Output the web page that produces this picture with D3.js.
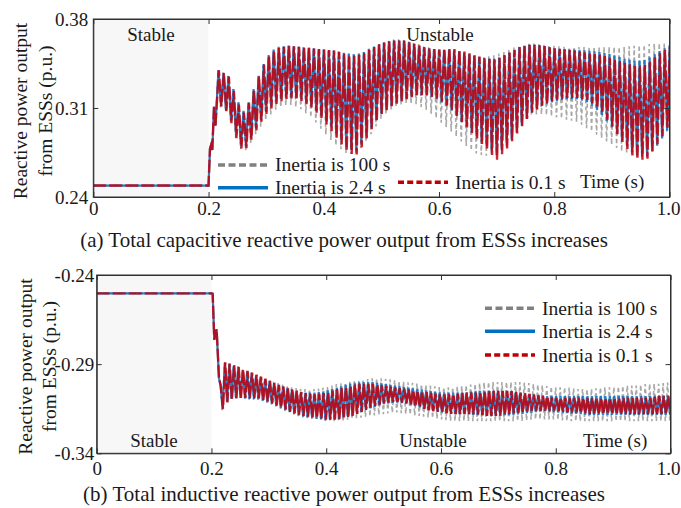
<!DOCTYPE html>
<html>
<head>
<meta charset="utf-8">
<script src="https://cdn.jsdelivr.net/npm/d3@7"></script>
<style>
  html, body { margin: 0; padding: 0; background: #fff; }
  svg { display: block; }
</style>
</head>
<body>
<svg id="chart" width="681" height="508"></svg>
<script>
// ---------------- data ----------------
const xTicks = [0, 0.2, 0.4, 0.6, 0.8, 1.0];
const xTickLabels = ["0", "0.2", "0.4", "0.6", "0.8", "1.0"];
const yTicksA = [0.24, 0.31, 0.38];
const yTicksB = [-0.34, -0.29, -0.24];
const seriesNames = ["Inertia is 100 s", "Inertia is 2.4 s", "Inertia is 0.1 s"];
const stableEnd = 0.2;

// step response after the disturbance at 0.2 s: [time, value]
const stepA = [[0, 0.249], [0.2, 0.249], [0.2025, 0.278], [0.2045, 0.281], [0.2065, 0.277],
               [0.2085, 0.300], [0.2095, 0.311], [0.212, 0.296]];
const stepB = [[0, -0.2503], [0.2, -0.2503], [0.2021, -0.2505], [0.2049, -0.2763], [0.2065, -0.2725],
               [0.209, -0.2705], [0.2115, -0.287], [0.2131, -0.298], [0.216, -0.302]];

// envelope of the oscillation that follows: [time, upper peak, lower peak]
// (a) capacitive output
const envA_100 = [[0.2166,0.340,0.311],[0.225,0.338,0.310],[0.235,0.335,0.304],[0.245,0.322,0.289],[0.255,0.310,0.278],[0.262,0.306,0.275],[0.27,0.314,0.280],[0.28,0.326,0.288],[0.29,0.338,0.295],[0.30,0.348,0.301],[0.31,0.354,0.306],[0.32,0.357,0.310],[0.34,0.359,0.313],[0.36,0.358,0.309],[0.38,0.357,0.302],[0.40,0.356,0.291],[0.42,0.355,0.281],[0.44,0.352,0.274],[0.455,0.352,0.274],[0.47,0.354,0.281],[0.48,0.357,0.288],[0.50,0.361,0.302],[0.52,0.364,0.310],[0.54,0.364,0.314],[0.56,0.361,0.313],[0.58,0.358,0.308],[0.60,0.356,0.300],[0.62,0.355,0.292],[0.64,0.353,0.283],[0.66,0.351,0.275],[0.68,0.350,0.272],[0.70,0.352,0.276],[0.72,0.356,0.286],[0.74,0.359,0.297],[0.76,0.361,0.305],[0.78,0.360,0.305],[0.80,0.359,0.303],[0.82,0.358,0.301],[0.84,0.358,0.299],[0.86,0.358,0.293],[0.88,0.358,0.287],[0.90,0.358,0.281],[0.92,0.358,0.275],[0.94,0.359,0.272],[0.96,0.360,0.276],[0.98,0.361,0.284],[1.00,0.361,0.294]];
const envA_2_4 = [[0.2166,0.340,0.312],[0.225,0.338,0.311],[0.235,0.335,0.306],[0.245,0.323,0.292],[0.255,0.311,0.281],[0.262,0.307,0.278],[0.27,0.315,0.283],[0.28,0.327,0.292],[0.29,0.339,0.300],[0.30,0.349,0.307],[0.31,0.355,0.312],[0.32,0.358,0.316],[0.34,0.359,0.319],[0.36,0.358,0.317],[0.38,0.357,0.311],[0.40,0.356,0.302],[0.42,0.355,0.291],[0.44,0.353,0.279],[0.455,0.352,0.275],[0.47,0.354,0.284],[0.48,0.357,0.293],[0.50,0.361,0.306],[0.52,0.363,0.313],[0.54,0.363,0.317],[0.56,0.360,0.320],[0.58,0.357,0.320],[0.60,0.356,0.316],[0.62,0.356,0.309],[0.64,0.354,0.299],[0.66,0.351,0.290],[0.68,0.349,0.281],[0.70,0.349,0.273],[0.72,0.353,0.281],[0.74,0.358,0.294],[0.76,0.360,0.306],[0.78,0.359,0.312],[0.80,0.357,0.315],[0.82,0.356,0.317],[0.84,0.356,0.317],[0.86,0.355,0.314],[0.88,0.354,0.306],[0.90,0.352,0.295],[0.92,0.349,0.283],[0.94,0.347,0.273],[0.96,0.348,0.271],[0.98,0.354,0.281],[1.00,0.359,0.295]];
const envA_0_1 = [[0.2166,0.340,0.312],[0.225,0.338,0.311],[0.235,0.335,0.305],[0.245,0.322,0.290],[0.255,0.310,0.279],[0.262,0.306,0.276],[0.27,0.314,0.281],[0.28,0.326,0.290],[0.29,0.338,0.298],[0.30,0.348,0.305],[0.31,0.354,0.310],[0.32,0.357,0.314],[0.34,0.359,0.318],[0.36,0.358,0.316],[0.38,0.357,0.310],[0.40,0.356,0.300],[0.42,0.355,0.288],[0.44,0.352,0.276],[0.455,0.351,0.272],[0.47,0.353,0.282],[0.48,0.356,0.291],[0.50,0.361,0.305],[0.52,0.363,0.312],[0.54,0.363,0.316],[0.56,0.360,0.320],[0.58,0.357,0.320],[0.60,0.356,0.317],[0.62,0.357,0.310],[0.64,0.355,0.299],[0.66,0.352,0.289],[0.68,0.349,0.279],[0.70,0.348,0.269],[0.72,0.353,0.279],[0.74,0.358,0.293],[0.76,0.360,0.306],[0.78,0.359,0.312],[0.80,0.357,0.316],[0.82,0.356,0.318],[0.84,0.355,0.318],[0.86,0.353,0.316],[0.88,0.352,0.308],[0.90,0.349,0.296],[0.92,0.346,0.282],[0.94,0.343,0.270],[0.96,0.344,0.269],[0.98,0.352,0.282],[1.00,0.358,0.297]];

// (b) inductive output
const envB_100 = [[0.2188,-0.289,-0.3158],[0.225,-0.289,-0.312],[0.235,-0.290,-0.310],[0.245,-0.291,-0.309],[0.255,-0.293,-0.309],[0.265,-0.294,-0.310],[0.28,-0.296,-0.310],[0.30,-0.299,-0.312],[0.32,-0.301,-0.315],[0.34,-0.303,-0.318],[0.36,-0.304,-0.320],[0.38,-0.304,-0.321],[0.40,-0.303,-0.322],[0.42,-0.301,-0.322],[0.44,-0.300,-0.321],[0.46,-0.299,-0.320],[0.48,-0.298,-0.319],[0.50,-0.298,-0.318],[0.52,-0.299,-0.317],[0.54,-0.300,-0.318],[0.56,-0.301,-0.319],[0.58,-0.302,-0.320],[0.60,-0.303,-0.321],[0.62,-0.303,-0.322],[0.64,-0.302,-0.322],[0.66,-0.301,-0.322],[0.68,-0.300,-0.322],[0.70,-0.300,-0.322],[0.72,-0.300,-0.322],[0.74,-0.300,-0.322],[0.76,-0.301,-0.321],[0.78,-0.302,-0.321],[0.80,-0.303,-0.321],[0.82,-0.303,-0.322],[0.84,-0.304,-0.322],[0.86,-0.304,-0.322],[0.88,-0.303,-0.322],[0.90,-0.303,-0.322],[0.92,-0.302,-0.322],[0.94,-0.302,-0.322],[0.96,-0.301,-0.322],[0.98,-0.301,-0.322],[1.00,-0.300,-0.322]];
const envB_2_4 = [[0.2188,-0.289,-0.3158],[0.225,-0.2895,-0.3115],[0.235,-0.2905,-0.3095],[0.245,-0.2915,-0.309],[0.255,-0.2935,-0.309],[0.265,-0.2945,-0.3095],[0.28,-0.2965,-0.3095],[0.30,-0.2995,-0.3115],[0.32,-0.302,-0.3145],[0.34,-0.304,-0.3175],[0.36,-0.306,-0.3195],[0.38,-0.306,-0.3205],[0.40,-0.305,-0.3215],[0.42,-0.303,-0.321],[0.44,-0.301,-0.3195],[0.46,-0.300,-0.317],[0.48,-0.300,-0.3145],[0.50,-0.301,-0.3125],[0.52,-0.302,-0.3115],[0.54,-0.303,-0.312],[0.56,-0.304,-0.314],[0.58,-0.305,-0.316],[0.60,-0.306,-0.317],[0.62,-0.306,-0.318],[0.64,-0.306,-0.318],[0.66,-0.305,-0.3185],[0.68,-0.305,-0.319],[0.70,-0.305,-0.319],[0.72,-0.305,-0.3185],[0.74,-0.306,-0.318],[0.76,-0.307,-0.317],[0.78,-0.308,-0.3165],[0.80,-0.308,-0.317],[0.82,-0.308,-0.3175],[0.84,-0.308,-0.318],[0.86,-0.308,-0.3185],[0.88,-0.308,-0.3185],[0.90,-0.308,-0.3185],[0.92,-0.308,-0.3185],[0.94,-0.308,-0.3185],[0.96,-0.308,-0.3185],[0.98,-0.3075,-0.3185],[1.00,-0.3075,-0.3185]];
const envB_0_1 = [[0.2188,-0.289,-0.3158],[0.225,-0.289,-0.312],[0.235,-0.290,-0.310],[0.245,-0.291,-0.309],[0.255,-0.293,-0.309],[0.265,-0.294,-0.309],[0.28,-0.296,-0.309],[0.30,-0.299,-0.311],[0.32,-0.302,-0.314],[0.34,-0.304,-0.317],[0.36,-0.306,-0.319],[0.38,-0.307,-0.320],[0.40,-0.306,-0.321],[0.42,-0.304,-0.321],[0.44,-0.302,-0.320],[0.46,-0.301,-0.317],[0.48,-0.301,-0.314],[0.50,-0.302,-0.312],[0.52,-0.303,-0.311],[0.54,-0.304,-0.312],[0.56,-0.305,-0.314],[0.58,-0.306,-0.316],[0.60,-0.307,-0.317],[0.62,-0.307,-0.318],[0.64,-0.306,-0.318],[0.66,-0.306,-0.318],[0.68,-0.305,-0.319],[0.70,-0.305,-0.319],[0.72,-0.305,-0.318],[0.74,-0.306,-0.317],[0.76,-0.307,-0.316],[0.78,-0.308,-0.316],[0.80,-0.309,-0.316],[0.82,-0.309,-0.317],[0.84,-0.309,-0.317],[0.86,-0.309,-0.318],[0.88,-0.309,-0.318],[0.90,-0.309,-0.318],[0.92,-0.309,-0.318],[0.94,-0.309,-0.318],[0.96,-0.309,-0.318],[0.98,-0.308,-0.318],[1.00,-0.308,-0.318]];

// half period of the sub-synchronous oscillation (s)
const halfPeriodA = 0.00435;
const halfPeriodB = 0.0039;

// ---------------- drawing ----------------
const FONT = '"Liberation Serif", "Times New Roman", Times, serif';
const svg = d3.select("#chart").style("font-family", FONT);

const styles = [
  { color: "#a8a8a8", width: 1.6, dash: "4,3", opacity: 1, legendColor: "#808080", legendDash: "7,3.5", phase: 0 },
  { color: "#0b70c4", width: 2.2, dash: null, opacity: 0.85, legendColor: "#0070c0", legendDash: null, phase: 0.0007 },
  { color: "#c3000b", width: 2.4, dash: "13,3", opacity: 0.85, legendColor: "#c00000", legendDash: "6,3.2", phase: 0.0013 }
];

// step response followed by alternating upper / lower peaks of the envelope
function tracePoints(step, env, halfPeriod, phase, firstPeak) {
  const times = env.map(d => d[0]);
  const hi = d3.scaleLinear().domain(times).range(env.map(d => d[1])).clamp(true);
  const lo = d3.scaleLinear().domain(times).range(env.map(d => d[2])).clamp(true);
  const pts = step.slice();
  const t0 = env[0][0] + phase;
  for (let k = 0; ; k++) {
    const t = t0 + k * halfPeriod;
    if (t > 1.003) break;
    const isPeak = (k % 2 === 0) === firstPeak;
    pts.push([t, isPeak ? hi(t) : lo(t)]);
  }
  return pts;
}

const panels = [
  {
    id: "a", left: 93.3, right: 669.5, top: 19, bottom: 197, domain: [0.24, 0.38],
    yTicks: yTicksA, yPad: 5, xLabelBase: 215,
    step: stepA, envs: [envA_100, envA_2_4, envA_0_1], halfPeriod: halfPeriodA, firstPeak: true,
    titleX: [27, 51.5], titleY: 111,
    caption: "(a) Total capacitive reactive power output from ESSs increases", captionY: 247,
    notes: [
      { text: "Stable", x: 151, y: 41, anchor: "middle" },
      { text: "Unstable", x: 440, y: 41, anchor: "middle" },
      { text: "Time (s)", x: 580, y: 188, anchor: "start" }
    ],
    legend: [
      { lx: 218, ly: 165, tx: 275, ty: 171 },
      { lx: 218, ly: 187.7, tx: 275, ty: 193.5 },
      { lx: 398, ly: 182.3, tx: 455, ty: 188.5 }
    ]
  },
  {
    id: "b", left: 96.7, right: 670.5, top: 275, bottom: 453.3, domain: [-0.34, -0.24],
    yTicks: yTicksB, yPad: 2.5, xLabelBase: 475,
    step: stepB, envs: [envB_100, envB_2_4, envB_0_1], halfPeriod: halfPeriodB, firstPeak: false,
    titleX: [32, 56], titleY: 366.5,
    caption: "(b) Total inductive reactive power output from ESSs increases", captionY: 501,
    notes: [
      { text: "Stable", x: 154, y: 446.5, anchor: "middle" },
      { text: "Unstable", x: 433, y: 446.5, anchor: "middle" },
      { text: "Time (s)", x: 583, y: 446.5, anchor: "start" }
    ],
    legend: [
      { lx: 485, ly: 308.3, tx: 542, ty: 315 },
      { lx: 485, ly: 331.3, tx: 542, ty: 338 },
      { lx: 485, ly: 355, tx: 542, ty: 362 }
    ]
  }
];

panels.forEach(p => {
  const x = d3.scaleLinear().domain([0, 1]).range([p.left, p.right]);
  const y = d3.scaleLinear().domain(p.domain).range([p.bottom, p.top]);
  const g = svg.append("g");

  // shaded stable interval
  g.append("rect")
    .attr("x", x(0)).attr("y", p.top)
    .attr("width", x(stableEnd) - x(0)).attr("height", p.bottom - p.top)
    .attr("fill", "#f7f7f7");

  // traces
  const clipId = "clip-" + p.id;
  svg.append("defs").append("clipPath").attr("id", clipId)
    .append("rect").attr("x", p.left).attr("y", p.top)
    .attr("width", p.right - p.left).attr("height", p.bottom - p.top);
  const line = d3.line().x(d => x(d[0])).y(d => y(d[1]));
  const traces = g.append("g").attr("clip-path", `url(#${clipId})`);
  p.envs.forEach((env, i) => {
    const s = styles[i];
    traces.append("path")
      .attr("d", line(tracePoints(p.step, env, p.halfPeriod, s.phase, p.firstPeak)))
      .attr("fill", "none")
      .attr("stroke", s.color)
      .attr("stroke-width", s.width)
      .attr("stroke-opacity", s.opacity)
      .attr("stroke-linejoin", "miter")
      .attr("stroke-dasharray", s.dash);
  });

  // axes (ticks point inward, mirrored on top and right)
  const axColor = "#303030";
  const xAxis = g.append("g").attr("transform", `translate(0,${p.bottom})`)
    .call(d3.axisBottom(x).tickValues(xTicks).tickFormat((d, i) => xTickLabels[i])
      .tickSize(-5).tickSizeOuter(0));
  xAxis.selectAll("text").attr("y", p.xLabelBase - p.bottom).attr("dy", null);
  // the last label sits at the page edge: keep it inside
  xAxis.selectAll(".tick").filter(d => d === 1).select("text")
    .attr("text-anchor", "end").attr("x", 680 - p.right);
  g.append("g").attr("transform", `translate(0,${p.top})`)
    .call(d3.axisTop(x).tickValues(xTicks).tickFormat("").tickSize(-5).tickSizeOuter(0));
  g.append("g").attr("transform", `translate(${p.left},0)`)
    .call(d3.axisLeft(y).tickValues(p.yTicks).tickFormat(d => d.toFixed(2))
      .tickSize(-5).tickSizeOuter(0).tickPadding(p.yPad));
  g.append("g").attr("transform", `translate(${p.right},0)`)
    .call(d3.axisRight(y).tickValues(p.yTicks).tickFormat("").tickSize(-5).tickSizeOuter(0));
  g.selectAll(".tick line").attr("stroke", axColor);
  g.selectAll(".domain").attr("stroke", axColor);
  g.selectAll(".tick text")
    .attr("fill", "#1a1a1a")
    .style("font-family", FONT).style("font-size", "19px");

  // frame
  g.append("rect")
    .attr("x", p.left).attr("y", p.top)
    .attr("width", p.right - p.left).attr("height", p.bottom - p.top)
    .attr("fill", "none").attr("stroke", axColor).attr("stroke-width", 1);

  // y title (two lines)
  ["Reactive power output", "from ESSs (p.u.)"].forEach((t, i) => {
    g.append("text")
      .attr("transform", `translate(${p.titleX[i]},${p.titleY}) rotate(-90)`)
      .attr("text-anchor", "middle")
      .style("font-size", "19.5px").attr("fill", "#1a1a1a")
      .text(t);
  });

  // annotations
  p.notes.forEach(n => {
    g.append("text").attr("x", n.x).attr("y", n.y)
      .attr("text-anchor", n.anchor)
      .style("font-size", "19px").attr("fill", "#1a1a1a")
      .text(n.text);
  });

  // legend
  p.legend.forEach((L, i) => {
    const s = styles[i];
    g.append("line")
      .attr("x1", L.lx).attr("x2", L.lx + 50)
      .attr("y1", L.ly).attr("y2", L.ly)
      .attr("stroke", s.legendColor)
      .attr("stroke-width", 3.6)
      .attr("stroke-dasharray", s.legendDash);
    g.append("text").attr("x", L.tx).attr("y", L.ty)
      .style("font-size", "19.5px").attr("fill", "#1a1a1a")
      .text(seriesNames[i]);
  });

  // caption
  svg.append("text").attr("x", 344).attr("y", p.captionY)
    .attr("text-anchor", "middle")
    .style("font-size", "21px").attr("fill", "#1a1a1a")
    .text(p.caption);
});
</script>
</body>
</html>
